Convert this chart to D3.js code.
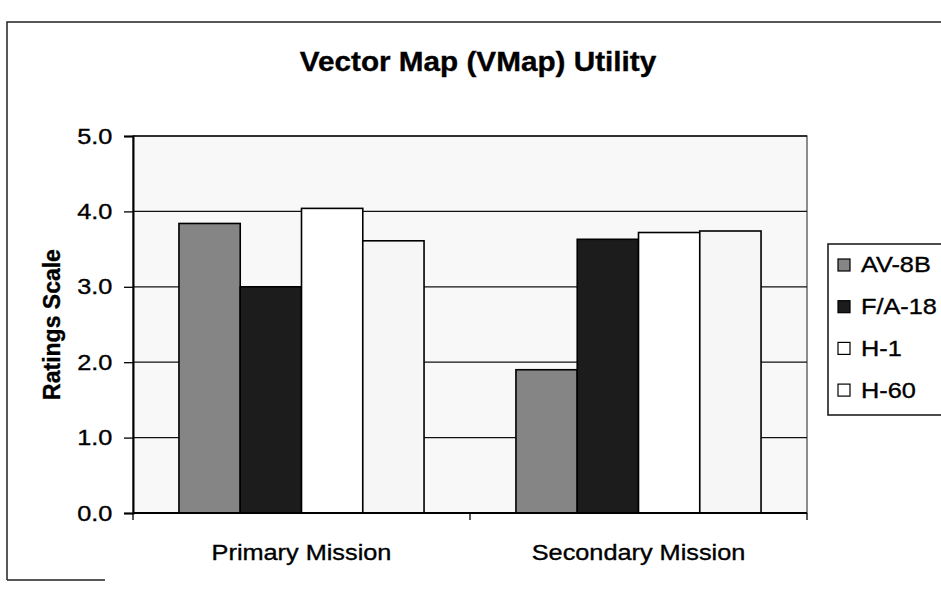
<!DOCTYPE html>
<html>
<head>
<meta charset="utf-8">
<script src="https://cdn.jsdelivr.net/npm/d3@7"></script>
<style>
  html, body { margin: 0; padding: 0; background: #fff; }
  svg { display: block; font-family: "Liberation Sans", Arial, sans-serif; }
  text { fill: #000; stroke: #000; stroke-width: 0.35px; }
</style>
</head>
<body>
<svg width="941" height="596"></svg>
<script>
// chart values
const categories = ["Primary Mission", "Secondary Mission"];
const seriesNames = ["AV-8B", "F/A-18", "H-1", "H-60"];
const av8b = [3.84, 1.90];
const fa18 = [3.00, 3.63];
const h1 = [4.04, 3.72];
const h60 = [3.61, 3.74];
const yTicks = [0, 1, 2, 3, 4, 5];

const seriesValues = [av8b, fa18, h1, h60];
const fills = ["#858585", "#1c1c1c", "#ffffff", "#f6f6f6"];
const stretch = "scale(1.15,1)"; // scanned text runs a little wide

const svg = d3.select("svg");

const plot = {left: 133, right: 807, top: 136, bottom: 513};

// outer chart frame (right side is cut off in the scan)
svg.append("path")
    .attr("d", "M7,580 L7,22 L941,22 M7,580 L105,580")
    .attr("fill", "none")
    .attr("stroke", "#222")
    .attr("stroke-width", 1.5);

// title
svg.append("text")
    .attr("transform", "translate(478,71) scale(1.1,1)")
    .attr("text-anchor", "middle")
    .style("font-size", "27px")
    .style("font-weight", "bold")
    .text("Vector Map (VMap) Utility");

const x0 = d3.scaleBand()
    .domain(categories)
    .range([plot.left, plot.right]);

// Excel style gap width of 150%
const gap = 1.5;
const barW = x0.bandwidth() / (seriesNames.length + gap);
const x1 = d3.scaleBand()
    .domain(seriesNames)
    .range([gap * barW / 2, x0.bandwidth() - gap * barW / 2]);

const y = d3.scaleLinear()
    .domain([0, 5])
    .range([plot.bottom, plot.top]);

// plot area background
svg.append("rect")
    .attr("x", plot.left)
    .attr("y", plot.top)
    .attr("width", plot.right - plot.left)
    .attr("height", plot.bottom - plot.top)
    .attr("fill", "#f8f8f8")
    .attr("stroke", "#444")
    .attr("stroke-width", 1.2);

// gridlines
svg.append("g")
    .selectAll("line")
    .data(yTicks.slice(1))
    .enter().append("line")
    .attr("x1", plot.left)
    .attr("x2", plot.right)
    .attr("y1", function(d) { return y(d); })
    .attr("y2", function(d) { return y(d); })
    .attr("stroke", "#111")
    .attr("stroke-width", 1.3);

// bars
const rows = categories.map(function(c, i) {
  return {category: c, values: seriesNames.map(function(s, j) {
    return {name: s, value: seriesValues[j][i], fill: fills[j]};
  })};
});

const group = svg.append("g").selectAll("g")
    .data(rows)
    .enter().append("g")
    .attr("transform", function(d) { return "translate(" + x0(d.category) + ",0)"; });

group.selectAll("rect")
    .data(function(d) { return d.values; })
    .enter().append("rect")
    .attr("x", function(d) { return x1(d.name); })
    .attr("width", x1.bandwidth())
    .attr("y", function(d) { return y(d.value); })
    .attr("height", function(d) { return y(0) - y(d.value); })
    .attr("fill", function(d) { return d.fill; })
    .attr("stroke", "#000")
    .attr("stroke-width", 1.6);

// y axis
const yAxis = svg.append("g")
    .attr("transform", "translate(" + plot.left + ",0)")
    .call(d3.axisLeft(y).tickValues(yTicks).tickFormat(d3.format(".1f")).tickSize(9).tickPadding(9));
yAxis.select(".domain").attr("stroke", "#000").attr("stroke-width", 2);
yAxis.selectAll(".tick line").attr("stroke", "#000").attr("stroke-width", 1.3);
yAxis.selectAll(".tick text")
    .attr("transform", stretch)
    .style("font-size", "22px");

// x axis with ticks between categories
const xAxis = svg.append("g")
    .attr("transform", "translate(0," + plot.bottom + ")");
xAxis.append("line")
    .attr("x1", plot.left).attr("x2", plot.right)
    .attr("stroke", "#000").attr("stroke-width", 2);
xAxis.selectAll(".sep")
    .data([plot.left].concat(categories.map(function(c) { return x0(c) + x0.bandwidth(); })))
    .enter().append("line")
    .attr("class", "sep")
    .attr("x1", function(d) { return d; })
    .attr("x2", function(d) { return d; })
    .attr("y1", 0).attr("y2", 7)
    .attr("stroke", "#000").attr("stroke-width", 1.3);
xAxis.selectAll(".cat")
    .data(categories)
    .enter().append("text")
    .attr("class", "cat")
    .attr("transform", function(d) { return "translate(" + (x0(d) + x0.bandwidth() / 2) + ",47) " + stretch; })
    .attr("text-anchor", "middle")
    .style("font-size", "22px")
    .text(function(d) { return d; });

// y axis title
svg.append("text")
    .attr("transform", "translate(52," + ((plot.top + plot.bottom) / 2) + ") rotate(-90)")
    .attr("text-anchor", "middle")
    .attr("dominant-baseline", "central")
    .style("font-size", "23px")
    .style("font-weight", "bold")
    .text("Ratings Scale");

// legend
const legend = svg.append("g");
legend.append("rect")
    .attr("x", 828).attr("y", 244)
    .attr("width", 140).attr("height", 171)
    .attr("fill", "#fff")
    .attr("stroke", "#111")
    .attr("stroke-width", 1.5);

const item = legend.selectAll(".item")
    .data(seriesNames)
    .enter().append("g")
    .attr("class", "item")
    .attr("transform", function(d, i) { return "translate(838," + (265 + i * 41.7) + ")"; });

item.append("rect")
    .attr("x", 0).attr("y", -6)
    .attr("width", 12).attr("height", 12)
    .attr("fill", function(d, i) { return i === 3 ? "#fff" : fills[i]; })
    .attr("stroke", "#000")
    .attr("stroke-width", 1.2);

item.append("text")
    .attr("transform", "translate(23,0) " + stretch)
    .attr("dominant-baseline", "central")
    .style("font-size", "22px")
    .text(function(d) { return d; });
</script>
</body>
</html>
